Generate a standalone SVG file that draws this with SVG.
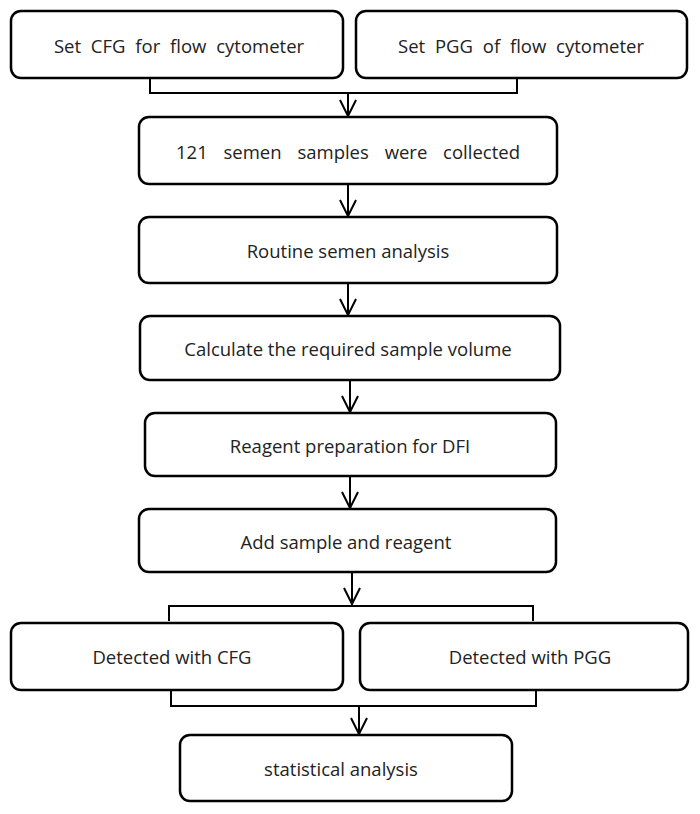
<svg xmlns="http://www.w3.org/2000/svg" width="700" height="814" viewBox="0 0 700 814">
<style>
.b{fill:#fff;stroke:#000;stroke-width:2.5}
.t{font-family:"Open Sans","Liberation Sans",sans-serif;font-size:18.5px;fill:#222;text-anchor:middle;dominant-baseline:central}
.c{fill:none;stroke:#000;stroke-width:2}
</style>
<defs><marker id="a" viewBox="0 0 18 18" refX="9" refY="17" markerWidth="18" markerHeight="18" markerUnits="userSpaceOnUse" orient="0"><path d="M1,1 L9,17 L17,1" fill="none" stroke="#000" stroke-width="2"/></marker></defs>
<rect width="700" height="814" fill="#fff"/>
<g id="n1"><rect class="b" x="11" y="11" width="332" height="67" rx="10"/><text class="t" x="179" y="45" word-spacing="5">Set CFG for flow cytometer</text></g>
<g id="n2"><rect class="b" x="356" y="11" width="331" height="67" rx="10"/><text class="t" x="521" y="45" word-spacing="5">Set PGG of flow cytometer</text></g>
<g id="n3"><rect class="b" x="139" y="117" width="418" height="67" rx="10"/><text class="t" x="348" y="151" word-spacing="11">121 semen samples were collected</text></g>
<g id="n4"><rect class="b" x="139" y="217" width="418" height="66" rx="10"/><text class="t" x="348" y="250">Routine semen analysis</text></g>
<g id="n5"><rect class="b" x="140" y="316" width="420" height="64" rx="10"/><text class="t" x="348" y="348">Calculate the required sample volume</text></g>
<g id="n6"><rect class="b" x="145" y="413" width="411" height="63" rx="10"/><text class="t" x="350" y="445">Reagent preparation for DFI</text></g>
<g id="n7"><rect class="b" x="139" y="509" width="417" height="63" rx="10"/><text class="t" x="346" y="541">Add sample and reagent</text></g>
<g id="n8"><rect class="b" x="11" y="623" width="332" height="67" rx="10"/><text class="t" x="172" y="656">Detected with CFG</text></g>
<g id="n9"><rect class="b" x="360" y="623" width="328" height="67" rx="10"/><text class="t" x="530" y="656">Detected with PGG</text></g>
<g id="n10"><rect class="b" x="180" y="735" width="332" height="66" rx="10"/><text class="t" x="341" y="768">statistical analysis</text></g>
<g id="connectors">
<path class="c" d="M150,78 V93 H517 V78"/>
<path class="c" d="M348,93 V116" marker-end="url(#a)"/>
<path class="c" d="M348,184 V216" marker-end="url(#a)"/>
<path class="c" d="M348,283 V315" marker-end="url(#a)"/>
<path class="c" d="M350,380 V412" marker-end="url(#a)"/>
<path class="c" d="M350,476 V508" marker-end="url(#a)"/>
<path class="c" d="M352,572 V604" marker-end="url(#a)"/>
<path class="c" d="M169,621 V606 H533 V621"/>
<path class="c" d="M171,690 V706 H536 V690"/>
<path class="c" d="M359,706 V734" marker-end="url(#a)"/>
</g>
</svg>
